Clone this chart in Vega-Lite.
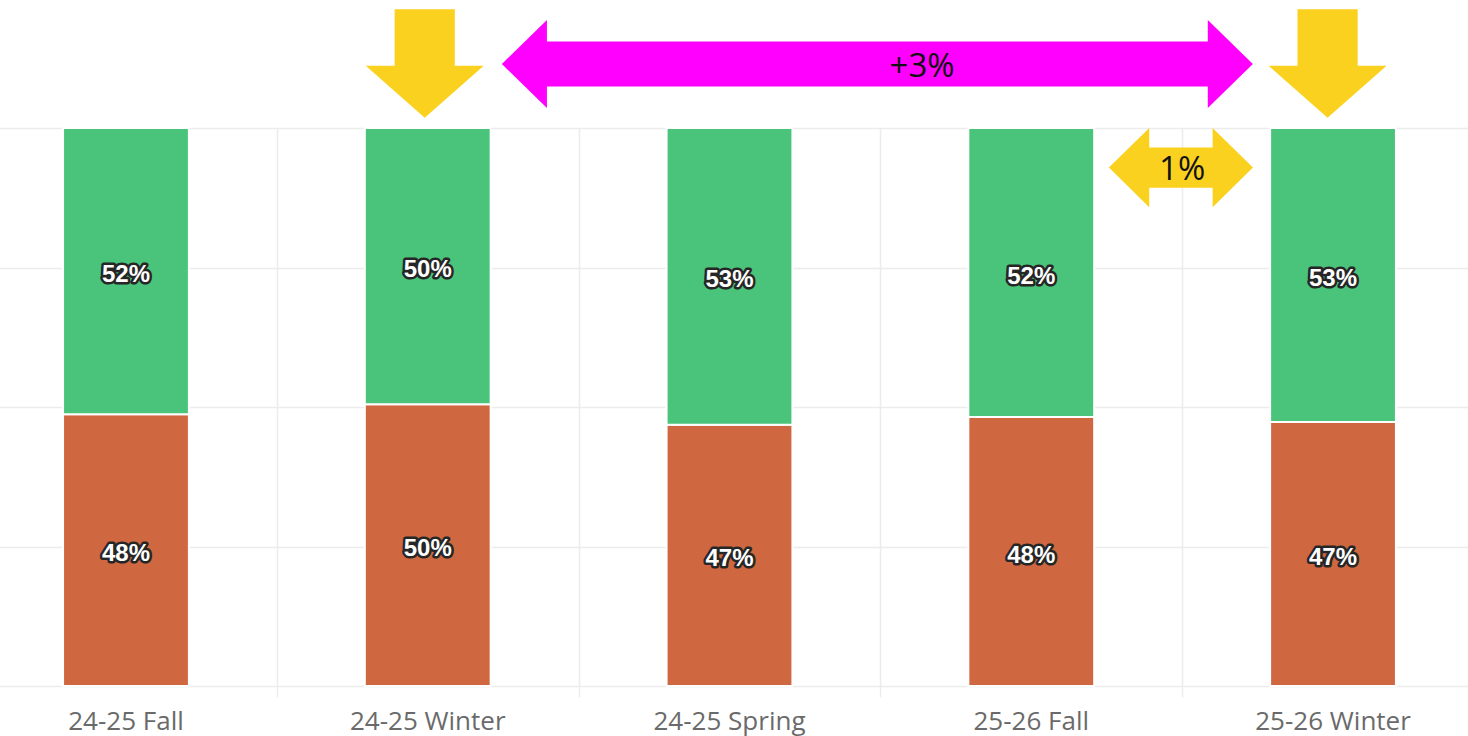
{
  "$schema": "https://vega.github.io/schema/vega-lite/v6.json",
  "width": 1457,
  "height": 558,
  "autosize": {"type": "none"},
  "padding": {"left": 11, "top": 128, "right": 0, "bottom": 50},
  "background": "white",
  "view": {"stroke": null},
  "config": {"font": "Open Sans"},
  "datasets": {
    "bars": [
      {"term": "24-25 Fall", "segment": "lower", "value": 0.487, "label": "48%"},
      {"term": "24-25 Fall", "segment": "upper", "value": 0.513, "label": "52%"},
      {"term": "24-25 Winter", "segment": "lower", "value": 0.505, "label": "50%"},
      {"term": "24-25 Winter", "segment": "upper", "value": 0.495, "label": "50%"},
      {"term": "24-25 Spring", "segment": "lower", "value": 0.468, "label": "47%"},
      {"term": "24-25 Spring", "segment": "upper", "value": 0.532, "label": "53%"},
      {"term": "25-26 Fall", "segment": "lower", "value": 0.482, "label": "48%"},
      {"term": "25-26 Fall", "segment": "upper", "value": 0.518, "label": "52%"},
      {"term": "25-26 Winter", "segment": "lower", "value": 0.473, "label": "47%"},
      {"term": "25-26 Winter", "segment": "upper", "value": 0.527, "label": "53%"}
    ],
    "arrows": [
      {"kind": "down", "pos": 0.99, "level": 1.1156},
      {"kind": "down", "pos": 3.982, "level": 1.1156},
      {"kind": "span", "pos": 2.49, "level": 1.1147},
      {"kind": "gap", "pos": 3.496, "level": 0.929}
    ],
    "notes": [
      {"text": "+3%", "pos": 2.638, "level": 1.109},
      {"text": "1%", "pos": 3.5, "level": 0.9247}
    ]
  },
  "layer": [
    {
      "encoding": {
        "x": {
          "field": "pos",
          "type": "quantitative",
          "scale": {"domain": [-0.5, 4.5], "range": [-35.9, 1472.9], "nice": false, "zero": false},
          "axis": {
            "title": null,
            "orient": "bottom",
            "values": [0.5, 1.5, 2.5, 3.5],
            "labels": false,
            "domain": false,
            "grid": true,
            "gridColor": "#ececec",
            "gridWidth": 1.5,
            "ticks": true,
            "tickColor": "#ececec",
            "tickWidth": 1.5,
            "tickSize": 11
          }
        },
        "y": {
          "field": "level",
          "type": "quantitative",
          "scale": {"domain": [0, 1], "nice": false, "zero": false},
          "axis": {
            "title": null,
            "labels": false,
            "ticks": false,
            "domain": false,
            "grid": true,
            "gridColor": "#ececec",
            "gridWidth": 1.5,
            "values": [0, 0.25, 0.5, 0.75, 1]
          }
        }
      },
      "layer": [
        {
          "data": {"name": "arrows"},
          "transform": [{"filter": "datum.kind === 'down'"}],
          "mark": {"type": "point", "filled": true, "opacity": 1, "strokeWidth": 0, "color": "#FBD11F", "size": 13924,
            "shape": "M-0.51,-0.92L0.51,-0.92L0.51,0.04L1,0.04L0,0.92L-1,0.04L-0.51,0.04Z"}
        },
        {
          "data": {"name": "arrows"},
          "transform": [{"filter": "datum.kind === 'span'"}],
          "mark": {"type": "point", "filled": true, "opacity": 1, "strokeWidth": 0, "color": "#FF00FF", "size": 564001,
            "shape": "M-1,0L-0.88,-0.117L-0.88,-0.06L0.88,-0.06L0.88,-0.117L1,0L0.88,0.117L0.88,0.06L-0.88,0.06L-0.88,0.117Z"}
        },
        {
          "data": {"name": "arrows"},
          "transform": [{"filter": "datum.kind === 'gap'"}],
          "mark": {"type": "point", "filled": true, "opacity": 1, "strokeWidth": 0, "color": "#FBD11F", "size": 20736,
            "shape": "M-1,0L-0.44,-0.55L-0.44,-0.28L0.44,-0.28L0.44,-0.55L1,0L0.44,0.55L0.44,0.28L-0.44,0.28L-0.44,0.55Z"}
        },
        {
          "data": {"name": "notes"},
          "mark": {"type": "text", "font": "Open Sans", "fontSize": 33, "color": "#111111", "baseline": "middle", "align": "center"},
          "encoding": {"text": {"field": "text"}}
        }
      ]
    },
    {
      "data": {"name": "bars"},
      "transform": [
        {"stack": "value", "groupby": ["term"], "sort": [{"field": "segment", "order": "ascending"}], "as": ["y0", "y1"]},
        {"calculate": "(datum.y0 + datum.y1) / 2", "as": "mid"}
      ],
      "encoding": {
        "x": {
          "field": "term",
          "type": "nominal",
          "sort": null,
          "scale": {"range": [-35.9, 1472.9], "paddingInner": 0.583, "paddingOuter": 0.2915},
          "axis": {
            "title": null,
            "orient": "bottom",
            "domain": false,
            "grid": false,
            "ticks": false,
            "labelAngle": 0,
            "labelFont": "Open Sans",
            "labelFontSize": 26,
            "labelColor": "#6a6a6a",
            "labelPadding": 22
          }
        }
      },
      "layer": [
        {
          "mark": {"type": "bar", "stroke": "white", "strokeWidth": 2},
          "encoding": {
            "y": {"field": "y0", "type": "quantitative", "scale": {"domain": [0, 1], "nice": false, "zero": false}},
            "y2": {"field": "y1"},
            "color": {
              "field": "segment",
              "type": "nominal",
              "scale": {"domain": ["lower", "upper"], "range": ["#CF6741", "#4AC47B"]},
              "legend": null
            }
          }
        },
        {
          "mark": {"type": "text", "font": "Liberation Sans", "fontWeight": "bold", "fontSize": 24, "fill": "white", "stroke": "#262626", "strokeWidth": 5, "strokeJoin": "round", "baseline": "middle", "align": "center", "dy": 4},
          "encoding": {
            "y": {"field": "mid", "type": "quantitative"},
            "text": {"field": "label"}
          }
        },
        {
          "mark": {"type": "text", "font": "Liberation Sans", "fontWeight": "bold", "fontSize": 24, "fill": "white", "baseline": "middle", "align": "center", "dy": 4},
          "encoding": {
            "y": {"field": "mid", "type": "quantitative"},
            "text": {"field": "label"}
          }
        }
      ]
    }
  ],
  "resolve": {"scale": {"x": "independent"}, "axis": {"x": "independent"}}
}
